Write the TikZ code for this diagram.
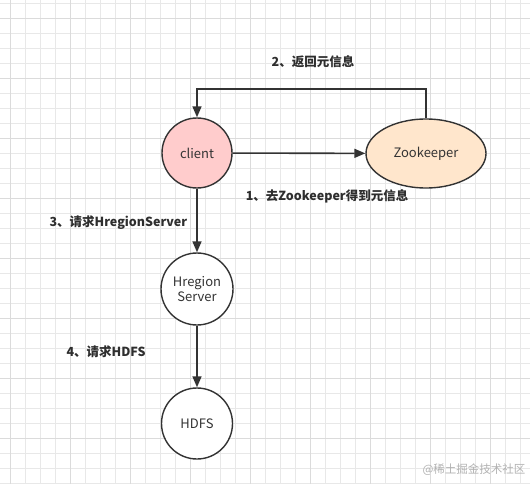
\documentclass[tikz,border=0pt]{standalone}
\usepackage{fontspec}
\setmainfont{Noto Sans CJK SC}
\usetikzlibrary{arrows.meta,shapes.geometric}
\definecolor{clientpink}{RGB}{255,204,204}
\definecolor{zkpeach}{RGB}{255,230,204}
\definecolor{inkgray}{RGB}{51,51,51}
\begin{document}
\begin{tikzpicture}[x=1pt, y=-1pt,
  every node/.style={font=\fontsize{13}{15}\selectfont, text=inkgray},
  svc/.style={circle, draw=inkgray, line width=1.4pt, minimum size=70pt, inner sep=0pt, align=center, fill=white},
  arrow/.style={-{Triangle[length=11pt,width=9pt]}, draw=inkgray, line width=1.6pt},
  step label/.style={font=\fontsize{12.5}{15}\selectfont\bfseries, text=inkgray!90!black}
]
  \useasboundingbox (0,0) rectangle (530,484);
  % grid
  \fill[white] (0,0) rectangle (530,484);
  \foreach \gx in {10,25,...,530} \draw[black!9, line width=0.5pt] (\gx,0) -- (\gx,484);
  \foreach \gy in {3,18,...,484} \draw[black!9, line width=0.5pt] (0,\gy) -- (530,\gy);
  \foreach \gx in {10,70,...,530} \draw[black!14, line width=0.7pt] (\gx,0) -- (\gx,484);
  \foreach \gy in {18,78,...,484} \draw[black!14, line width=0.7pt] (0,\gy) -- (530,\gy);

  \node[svc, fill=clientpink] (client) at (197,153) {client};
  \node[ellipse, draw=inkgray, line width=1.4pt, fill=zkpeach, minimum width=120pt, minimum height=69pt] (zk) at (426,153.5) {Zookeeper};
  \node[svc, minimum size=72pt] (hregion) at (197,289) {Hregion\\Server};
  \node[svc, minimum size=71pt] (hdfs) at (197,423.5) {HDFS};

  \coordinate (bend) at (197,89);
  \draw[arrow] (client) -- (zk);
  \draw[arrow] (zk.north) |- (bend) -- (client.north);
  \draw[arrow] (client) -- (hregion);
  \draw[arrow] (hregion) -- (hdfs);

  \node[step label] (lbl1) at (327,196) {1、去Zookeeper得到元信息};
  \node[step label] (lbl2) at (313,62) {2、返回元信息};
  \node[step label, anchor=west] (lbl3) at (46,223) {3、请求HregionServer};
  \node[step label, anchor=west] (lbl4) at (63,352) {4、请求HDFS};

  \node[anchor=east, text=black!30, font=\fontsize{11.5}{13}\selectfont] (mark) at (529,470) {@稀土掘金技术社区};
\end{tikzpicture}
\end{document}
